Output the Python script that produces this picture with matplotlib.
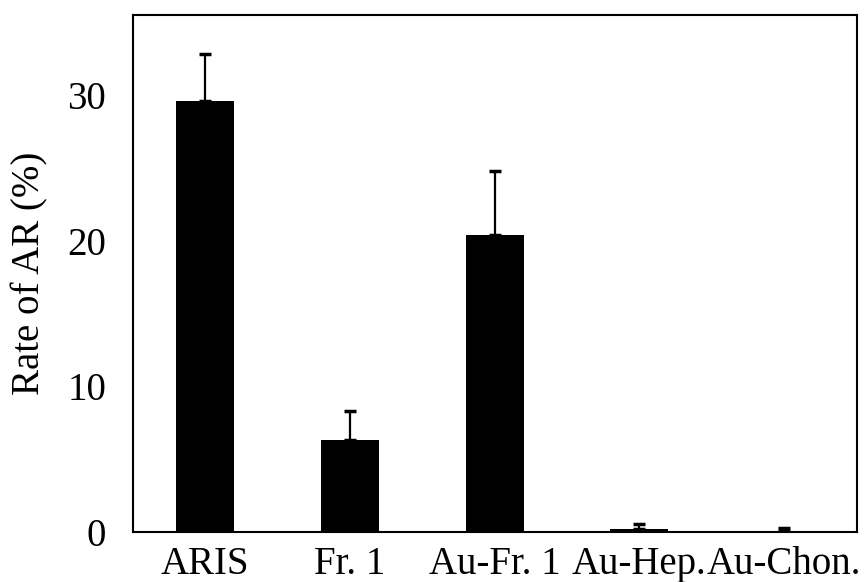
import numpy as np
import matplotlib
matplotlib.use('Agg')
import matplotlib.pyplot as plt

categories = ['ARIS', 'Fr. 1', 'Au-Fr. 1', 'Au-Hep.', 'Au-Chon.']
rates = [29.6, 6.3, 20.4, 0.2, 0.05]
errors = [3.2, 2.0, 4.4, 0.35, 0.2]

plt.rcParams['font.family'] = ['Liberation Serif', 'DejaVu Serif']

fig = plt.figure(figsize=(8.67, 5.82), dpi=100)
ax = fig.add_axes([0.153, 0.086, 0.835, 0.888])

x = np.arange(len(categories))
ax.bar(x, rates, width=0.4, color='black')
ax.errorbar(x, rates, yerr=[np.zeros(len(errors)), errors], fmt='none',
            ecolor='black', elinewidth=1.6, capsize=4.5, capthick=2.5)

ax.set_xlim(-0.5, 4.5)
ax.set_ylim(0, 35.5)
ax.set_yticks([0, 10, 20, 30])
ax.set_xticks(x)
ax.set_xticklabels(categories)
ax.tick_params(axis='both', length=0, labelsize=28)
ax.tick_params(axis='y', pad=19)
ax.tick_params(axis='x', pad=10)
for s in ax.spines.values():
    s.set_linewidth(1.5)
ax.set_ylabel('Rate of AR (%)', fontsize=28, labelpad=14)

fig.savefig('out.png', dpi=100)
